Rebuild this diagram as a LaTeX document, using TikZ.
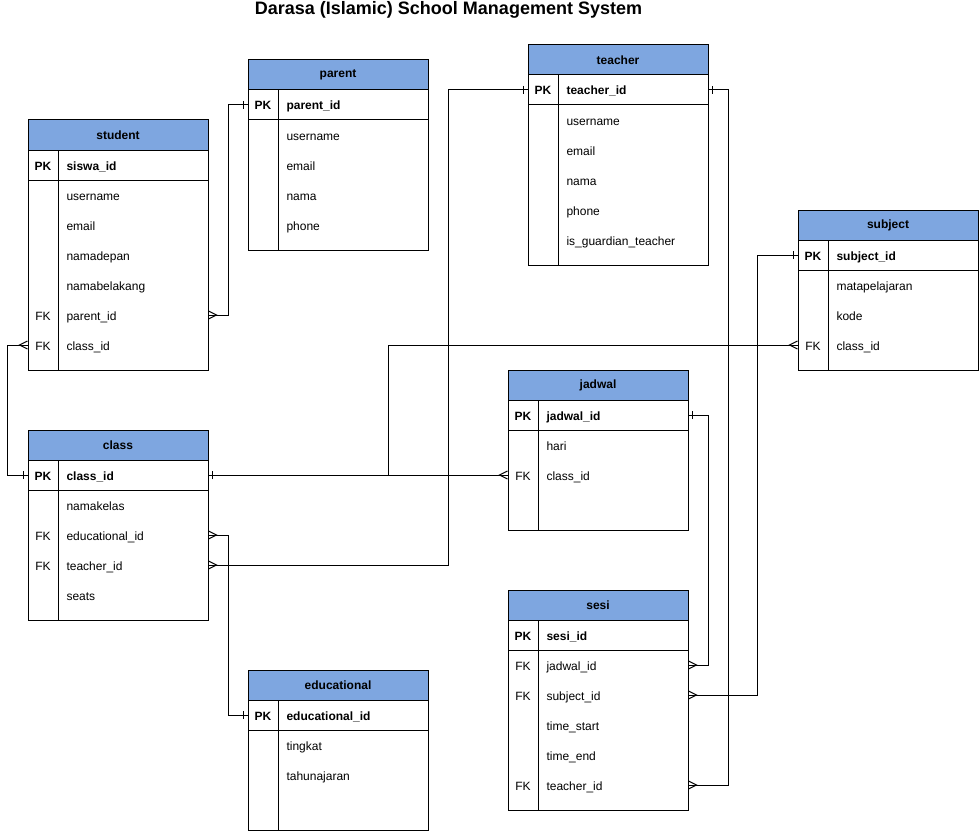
\documentclass[tikz,border=0pt]{standalone}
\usepackage{fontspec}
\setmainfont{Liberation Sans}
\usepackage{tikz}
\usetikzlibrary{arrows.meta, calc}
\definecolor{headblue}{RGB}{126,166,224}

% crow's foot (many) and single bar (one) ends
\pgfdeclarearrow{
  name = ermany,
  setup code = {
    \pgfarrowssettipend{0pt}
    \pgfarrowssetlineend{0pt}
    \pgfarrowssetbackend{-8pt}
  },
  drawing code = {
    \pgfpathmoveto{\pgfqpoint{0pt}{4pt}}
    \pgfpathlineto{\pgfqpoint{-8pt}{0pt}}
    \pgfpathlineto{\pgfqpoint{0pt}{-4pt}}
    \pgfusepathqstroke
  }
}
\pgfdeclarearrow{
  name = erone,
  setup code = {
    \pgfarrowssettipend{0pt}
    \pgfarrowssetlineend{0pt}
    \pgfarrowssetbackend{-5pt}
  },
  drawing code = {
    \pgfpathmoveto{\pgfqpoint{-4pt}{4pt}}
    \pgfpathlineto{\pgfqpoint{-4pt}{-4pt}}
    \pgfusepathqstroke
  }
}

\tikzset{
  tblhead/.style={rectangle, draw, fill=headblue, minimum width=180pt, minimum height=30pt, inner sep=0pt, font=\fontsize{12}{14}\selectfont\bfseries},
  keytxt/.style={anchor=center, inner sep=0pt, text height=10pt, text depth=0pt, font=\fontsize{12}{14}\selectfont},
  fldtxt/.style={anchor=west, inner sep=0pt, text height=10pt, text depth=0pt, font=\fontsize{12}{14}\selectfont},
  keybold/.style={keytxt, font=\fontsize{12}{14}\selectfont\bfseries},
  fldbold/.style={fldtxt, font=\fontsize{12}{14}\selectfont\bfseries},
}

\begin{document}
\begin{tikzpicture}[x=1pt, y=-1pt, line width=1pt]
    \useasboundingbox (0,0) rectangle (979,832);

    % Title
    \node[font=\fontsize{18}{22}\selectfont\bfseries] (title) at (448.5,10) {Darasa (Islamic) School Management System};

    % student
    \node[tblhead] (student) at (118,135) {student};
    \draw (28,150) rectangle (208,370);
    \draw (58,150) -- (58,370);
    \draw (28,180) -- (208,180);
    \node[keybold] (st-pk) at (43,165) {PK};
    \node[fldbold] (st-id) at (66,165) {siswa\_id};
    \node[fldtxt] (st-user) at (66,195) {username};
    \node[fldtxt] (st-mail) at (66,225) {email};
    \node[fldtxt] (st-first) at (66,255) {namadepan};
    \node[fldtxt] (st-last) at (66,285) {namabelakang};
    \node[keytxt] (st-fk1) at (43,315) {FK};
    \node[fldtxt] (st-parent) at (66,315) {parent\_id};
    \node[keytxt] (st-fk2) at (43,345) {FK};
    \node[fldtxt] (st-class) at (66,345) {class\_id};

    % parent
    \node[tblhead] (parent) at (338,75) {parent};
    \draw (248,90) rectangle (428,250);
    \draw (278,90) -- (278,250);
    \draw (248,120) -- (428,120);
    \node[keybold] (pa-pk) at (263,105) {PK};
    \node[fldbold] (pa-id) at (286,105) {parent\_id};
    \node[fldtxt] (pa-user) at (286,135) {username};
    \node[fldtxt] (pa-mail) at (286,165) {email};
    \node[fldtxt] (pa-name) at (286,195) {nama};
    \node[fldtxt] (pa-phone) at (286,225) {phone};

    % teacher
    \node[tblhead] (teacher) at (618,60) {teacher};
    \draw (528,75) rectangle (708,265);
    \draw (558,75) -- (558,265);
    \draw (528,105) -- (708,105);
    \node[keybold] (te-pk) at (543,90) {PK};
    \node[fldbold] (te-id) at (566,90) {teacher\_id};
    \node[fldtxt] (te-user) at (566,120) {username};
    \node[fldtxt] (te-mail) at (566,150) {email};
    \node[fldtxt] (te-name) at (566,180) {nama};
    \node[fldtxt] (te-phone) at (566,210) {phone};
    \node[fldtxt] (te-guard) at (566,240) {is\_guardian\_teacher};

    % subject
    \node[tblhead] (subject) at (888,225) {subject};
    \draw (798,240) rectangle (978,370);
    \draw (828,240) -- (828,370);
    \draw (798,270) -- (978,270);
    \node[keybold] (sb-pk) at (813,255) {PK};
    \node[fldbold] (sb-id) at (836,255) {subject\_id};
    \node[fldtxt] (sb-mapel) at (836,285) {matapelajaran};
    \node[fldtxt] (sb-code) at (836,315) {kode};
    \node[keytxt] (sb-fk) at (813,345) {FK};
    \node[fldtxt] (sb-class) at (836,345) {class\_id};

    % class
    \node[tblhead] (class) at (118,445) {class};
    \draw (28,460) rectangle (208,620);
    \draw (58,460) -- (58,620);
    \draw (28,490) -- (208,490);
    \node[keybold] (cl-pk) at (43,475) {PK};
    \node[fldbold] (cl-id) at (66,475) {class\_id};
    \node[fldtxt] (cl-name) at (66,505) {namakelas};
    \node[keytxt] (cl-fk1) at (43,535) {FK};
    \node[fldtxt] (cl-edu) at (66,535) {educational\_id};
    \node[keytxt] (cl-fk2) at (43,565) {FK};
    \node[fldtxt] (cl-teacher) at (66,565) {teacher\_id};
    \node[fldtxt] (cl-seats) at (66,595) {seats};

    % jadwal
    \node[tblhead] (jadwal) at (598,385) {jadwal};
    \draw (508,400) rectangle (688,530);
    \draw (538,400) -- (538,530);
    \draw (508,430) -- (688,430);
    \node[keybold] (jd-pk) at (523,415) {PK};
    \node[fldbold] (jd-id) at (546,415) {jadwal\_id};
    \node[fldtxt] (jd-day) at (546,445) {hari};
    \node[keytxt] (jd-fk) at (523,475) {FK};
    \node[fldtxt] (jd-class) at (546,475) {class\_id};

    % sesi
    \node[tblhead] (sesi) at (598,605) {sesi};
    \draw (508,620) rectangle (688,810);
    \draw (538,620) -- (538,810);
    \draw (508,650) -- (688,650);
    \node[keybold] (se-pk) at (523,635) {PK};
    \node[fldbold] (se-id) at (546,635) {sesi\_id};
    \node[keytxt] (se-fk1) at (523,665) {FK};
    \node[fldtxt] (se-jadwal) at (546,665) {jadwal\_id};
    \node[keytxt] (se-fk2) at (523,695) {FK};
    \node[fldtxt] (se-subject) at (546,695) {subject\_id};
    \node[fldtxt] (se-start) at (546,725) {time\_start};
    \node[fldtxt] (se-end) at (546,755) {time\_end};
    \node[keytxt] (se-fk3) at (523,785) {FK};
    \node[fldtxt] (se-teacher) at (546,785) {teacher\_id};

    % educational
    \node[tblhead] (educational) at (338,685) {educational};
    \draw (248,700) rectangle (428,830);
    \draw (278,700) -- (278,830);
    \draw (248,730) -- (428,730);
    \node[keybold] (ed-pk) at (263,715) {PK};
    \node[fldbold] (ed-id) at (286,715) {educational\_id};
    \node[fldtxt] (ed-level) at (286,745) {tingkat};
    \node[fldtxt] (ed-year) at (286,775) {tahunajaran};

    % Relations
    \draw[ermany-erone] (student.east |- st-parent) -- ++(20,0) |- (parent.west |- pa-id);
    \draw[ermany-erone] (student.west |- st-class) -- ++(-20,0) |- (class.west |- cl-id);
    \draw[erone-ermany] (class.east |- cl-id) -- (jadwal.west |- jd-class);
    \draw[erone-ermany] (class.east |- cl-id) -- ++(180,0) |- (subject.west |- sb-class);
    \draw[ermany-erone] (class.east |- cl-edu) -- ++(20,0) |- (educational.west |- ed-id);
    \draw[ermany-erone] (class.east |- cl-teacher) -- ++(240,0) |- (teacher.west |- te-id);
    \draw[erone-ermany] (teacher.east |- te-id) -- ++(20,0) |- (sesi.east |- se-teacher);
    \draw[erone-ermany] (jadwal.east |- jd-id) -- ++(20,0) |- (sesi.east |- se-jadwal);
    \draw[erone-ermany] (subject.west |- sb-id) -- ++(-40,0) |- (sesi.east |- se-subject);
\end{tikzpicture}
\end{document}
